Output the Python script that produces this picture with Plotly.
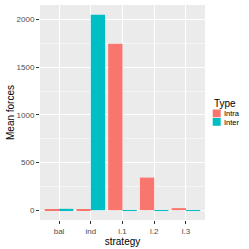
import plotly.graph_objects as go

strategies = ["bal", "ind", "l.1", "l.2", "l.3"]
type_names = ["Intra", "Inter"]
type_colors = ["#F8766D", "#00BFC4"]
intra_vals = [10, 3, 1745, 342, 22]
inter_vals = [15, 2050, 2, 2, 2]
y_ticks = [0, 500, 1000, 1500, 2000]

L, R, T, B = 40, 44, 5, 29
W = H = 249
pw, ph = W - L - R, H - T - B

def px_x(p):
    return (p - L) / pw

def px_y(p):
    return (H - B - p) / ph

fig = go.Figure()
for name, vals, col in zip(type_names, [intra_vals, inter_vals], type_colors):
    fig.add_trace(go.Bar(x=strategies, y=vals, name=name, showlegend=False,
                         marker=dict(color=col, line=dict(width=0))))

font = "Liberation Sans, Arial, sans-serif"
fig.update_layout(
    width=W, height=H,
    margin=dict(l=L, r=R, t=T, b=B, autoexpand=False),
    barmode="group", bargap=0.1, bargroupgap=0,
    plot_bgcolor="#EBEBEB", paper_bgcolor="white",
    font=dict(family=font, size=9, color="black"),
    showlegend=False,
)

# manual ggplot-style legend
fig.add_annotation(text="Type", xref="paper", yref="paper", x=px_x(211.5), y=px_y(103.5),
                   xanchor="left", yanchor="middle", showarrow=False, font=dict(size=10, color="black"))
for i, (name, col) in enumerate(zip(type_names, type_colors)):
    top = 109.5 + i * 8.5
    fig.add_shape(type="rect", xref="paper", yref="paper", x0=px_x(212.7), x1=px_x(220.7),
                  y0=px_y(top + 7.8), y1=px_y(top), fillcolor=col, line=dict(width=0))
    fig.add_annotation(text=name, xref="paper", yref="paper", x=px_x(221.5), y=px_y(top + 4),
                       xanchor="left", yanchor="middle", showarrow=False,
                       font=dict(size=7.5, color="black"))

fig.update_xaxes(
    title=dict(text="strategy", font=dict(size=10), standoff=0),
    range=[-0.6, 4.6], showgrid=True, gridcolor="white", gridwidth=1,
    ticks="outside", ticklen=3, tickcolor="#333333", tickfont=dict(size=8, color="#4D4D4D"),
    zeroline=False, showline=False, automargin=False,
)
fig.update_yaxes(
    title=dict(text="Mean forces", font=dict(size=10), standoff=0),
    range=[-102.5, 2152.5], tickvals=y_ticks, showgrid=True, gridcolor="white", gridwidth=1,
    minor=dict(showgrid=True, gridcolor="#F5F5F5", dtick=250, tick0=250, gridwidth=0.5),
    ticks="outside", ticklen=3, tickcolor="#333333", tickfont=dict(size=8, color="#4D4D4D"),
    zeroline=False, showline=False, automargin=False,
)
fig.write_html("out.html", post_script="document.body.style.margin='0';",
               config={"displayModeBar": False})
